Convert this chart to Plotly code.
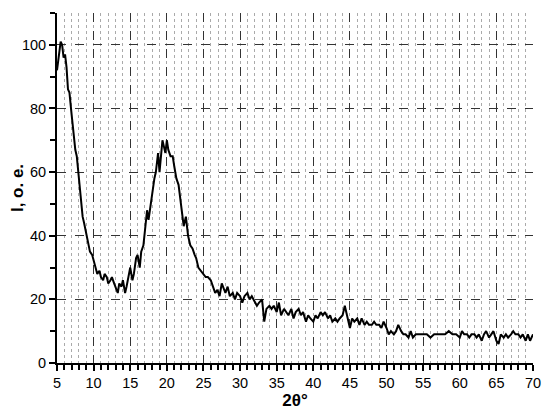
import plotly.graph_objects as go

# XRD pattern, 2theta (deg) vs intensity (arb. units)
two_theta = [
    5.0, 5.3, 5.5, 5.7, 5.9, 6.1, 6.3, 6.5, 6.7, 7.0, 7.3, 7.5, 7.7, 8.0, 8.3, 8.5, 8.7,
    9.0, 9.3, 9.5, 9.8, 10.0, 10.3, 10.5, 10.8, 11.0, 11.3, 11.5, 11.8, 12.0, 12.3, 12.5,
    12.8, 13.0, 13.3, 13.5, 13.8, 14.0, 14.3, 14.5, 14.8, 15.0, 15.3, 15.5, 15.8, 16.0,
    16.3, 16.5, 16.8, 17.0, 17.3, 17.5, 17.8, 18.0, 18.3, 18.5, 18.8, 19.0, 19.2, 19.4,
    19.6, 19.8, 20.0, 20.2, 20.5, 20.8, 21.0, 21.3, 21.6, 22.0, 22.3, 22.6, 22.9, 23.2,
    23.5, 23.8, 24.0, 24.3, 24.6, 25.0, 25.3, 25.6, 26.0, 26.3, 26.6, 26.9, 27.2, 27.5,
    27.8, 28.0, 28.3, 28.6, 29.0, 29.3, 29.6, 30.0, 30.3, 30.6, 31.0, 31.3, 31.6, 32.0,
    32.3, 32.6, 33.0, 33.3, 33.6, 34.0, 34.3, 34.6, 35.0, 35.3, 35.6, 36.0, 36.3, 36.6,
    37.0, 37.3, 37.6, 38.0, 38.3, 38.6, 39.0, 39.3, 39.6, 40.0, 40.3, 40.6, 41.0, 41.3,
    41.6, 42.0, 42.3, 42.6, 43.0, 43.3, 43.6, 44.0, 44.3, 44.6, 45.0, 45.3, 45.6, 46.0,
    46.3, 46.6, 47.0, 47.3, 47.6, 48.0, 48.3, 48.6, 49.0, 49.3, 49.6, 50.0, 50.3, 50.6,
    51.0, 51.3, 51.6, 52.0, 52.3, 52.6, 53.0, 53.3, 53.6, 54.0, 54.5, 55.0, 55.5, 56.0,
    56.5, 57.0, 57.5, 58.0, 58.5, 59.0, 59.5, 60.0, 60.3, 60.6, 61.0, 61.3, 61.6, 62.0,
    62.3, 62.6, 63.0, 63.3, 63.6, 64.0, 64.3, 64.6, 65.0, 65.3, 65.6, 66.0, 66.3, 66.6,
    67.0, 67.3, 67.6, 68.0, 68.3, 68.6, 69.0, 69.3, 69.6, 70.0,
]
intensity = [
    92, 98, 101, 100, 96, 97, 93, 86, 85, 78, 70, 67, 65, 57, 50, 46, 44,
    41, 37, 35, 34, 32, 30, 28, 29, 27, 26, 28, 27, 25, 26, 27,
    25, 24, 22, 25, 24, 26, 22, 24, 28, 30, 26, 28, 33, 34,
    30, 35, 37, 42, 48, 45, 50, 54, 58, 60, 66, 60, 66, 70,
    68, 66, 70, 67, 65, 65, 62, 58, 56, 49, 43, 46, 40, 37,
    36, 34, 33, 30, 29, 28, 27, 27, 26, 24, 22, 23, 21, 25,
    23, 22, 24, 21, 22, 20, 22, 21, 19, 21, 22, 20, 21, 19,
    18, 19, 20, 13, 17, 18, 17, 18, 16, 19, 15, 17, 16, 15,
    17, 14, 16, 17, 15, 16, 13, 15, 14, 13, 15, 14, 16, 15,
    16, 14, 15, 13, 14, 13, 14, 15, 18, 15, 11, 14, 13, 14,
    12, 14, 12, 13, 12, 12, 13, 12, 12, 11, 13, 11, 9, 10,
    9, 10, 12, 10, 9, 9, 8, 10, 8, 9, 9, 9, 9, 8,
    9, 9, 9, 9, 10, 9, 9, 8, 10, 9, 9, 8, 9, 9,
    8, 9, 7, 9, 10, 8, 9, 10, 7, 6, 9, 8, 9, 8,
    9, 10, 9, 9, 8, 9, 7, 9, 7, 9,
]

x_ticks = list(range(5, 71, 5))
y_ticks = list(range(0, 101, 20))

fig = go.Figure()
fig.add_trace(go.Scatter(
    x=two_theta,
    y=intensity,
    mode='lines',
    line=dict(color='black', width=2),
    showlegend=False,
))

font_family = 'Liberation Sans, Arial, sans-serif'
axis_font = dict(family=font_family, size=14.5, color='black')

# page body adds an 8px offset, so the figure is 8px smaller than the window
fig.update_layout(
    width=542,
    height=404,
    margin=dict(l=49, r=17, t=5, b=49),
    paper_bgcolor='white',
    plot_bgcolor='white',
    font=axis_font,
)

fig.update_xaxes(
    range=[5, 70],
    tickvals=x_ticks,
    automargin=False,
    showline=True,
    linecolor='black',
    linewidth=2,
    ticks='outside',
    ticklen=6,
    tickwidth=1.5,
    tickcolor='black',
    showgrid=True,
    gridcolor='#333333',
    griddash='dash',
    gridwidth=1,
    zeroline=False,
    minor=dict(
        dtick=1,
        ticks='outside',
        ticklen=5,
        tickwidth=1.5,
        tickcolor='black',
        showgrid=True,
        gridcolor='#aaaaaa',
        griddash='dot',
        gridwidth=1,
    ),
    title=dict(text='<b>2θ°</b>', font=dict(size=17, family=font_family), standoff=0),
    tickfont=axis_font,
)

fig.update_yaxes(
    range=[0, 110],
    tickvals=y_ticks,
    automargin=False,
    showline=True,
    linecolor='black',
    linewidth=2,
    ticks='outside',
    ticklen=6,
    tickwidth=1.5,
    tickcolor='black',
    showgrid=True,
    gridcolor='#333333',
    griddash='dash',
    gridwidth=1,
    zeroline=False,
    minor=dict(
        dtick=10,
        ticks='outside',
        ticklen=5,
        tickwidth=1.5,
        tickcolor='black',
        showgrid=False,
    ),
    title=dict(text='<b>I, o. e.</b>', font=dict(size=17, family=font_family), standoff=4),
    tickfont=axis_font,
)

fig.write_html("out.html")
